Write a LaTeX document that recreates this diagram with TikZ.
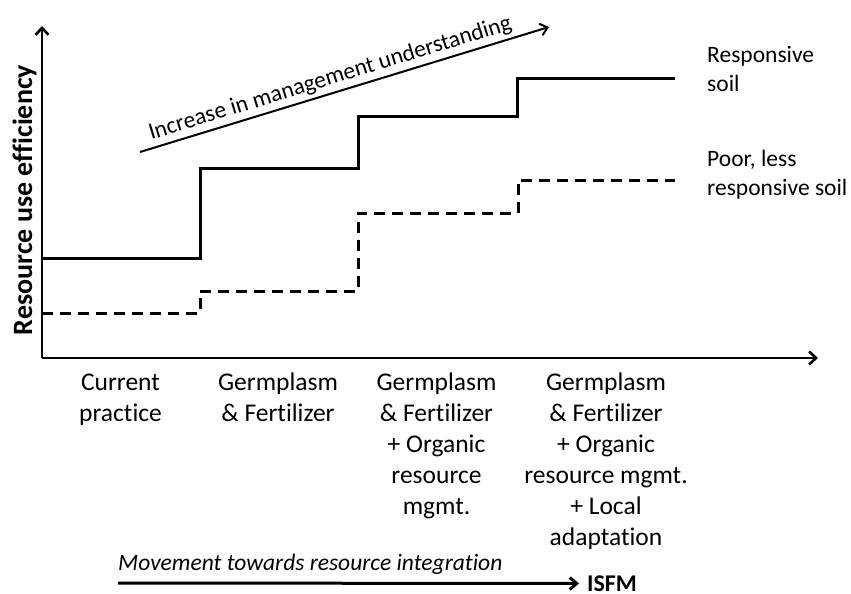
\documentclass[tikz,border=0pt]{standalone}
\usepackage{fontspec}
\setmainfont[Ligatures=CommonOff]{Carlito}
\usetikzlibrary{arrows.meta}
\begin{document}
\begin{tikzpicture}[x=1pt,y=-1pt,
  axis/.style={line width=2.6pt,-{Straight Barb[length=7pt,width=13pt]}},
  resp/.style={line width=3pt,line join=miter},
  poor/.style={line width=3pt,dash pattern=on 11pt off 7pt},
  lbl/.style={inner sep=0pt,font=\fontsize{23.5}{28.5}\selectfont,align=left},
  col/.style={inner sep=0pt,font=\fontsize{25.5}{31}\selectfont,align=center,anchor=base}]
\useasboundingbox (0,0) rectangle (851,594);
% axes
\coordinate (O) at (42,358);
\coordinate (Ytop) at (42,26);
\coordinate (Xend) at (818,358);
\draw[axis] (O) -- (Ytop);
\draw[axis] (O) -- (Xend);
% responsive soil
\coordinate (r0) at (42,258);
\coordinate (r1) at (200,258);
\coordinate (r2) at (200,168);
\coordinate (r3) at (358,168);
\coordinate (r4) at (358,116);
\coordinate (r5) at (517,116);
\coordinate (r6) at (517,78);
\coordinate (r7) at (675,78);
\draw[resp] (r0) -- (r1) -- (r2) -- (r3) -- (r4) -- (r5) -- (r6) -- (r7);
% poor soil
\coordinate (p0) at (42,313);
\coordinate (p1) at (200,313);
\coordinate (p2) at (200,291);
\coordinate (p3) at (358,291);
\coordinate (p4) at (358,213);
\coordinate (p5) at (518,213);
\coordinate (p6) at (518,180);
\coordinate (p7) at (675,180);
\draw[poor] (p0) -- (p1) -- (p2) -- (p3) -- (p4) -- (p5) -- (p6) -- (p7);
% increase arrow
\coordinate (i0) at (140,152);
\coordinate (i1) at (549,27);
\draw[line width=2pt,-{Straight Barb[length=7pt,width=12pt]}] (i0) -- (i1);
\node[lbl,anchor=base,rotate=17.03] (inc) at (332,84.5) {Increase in management understanding};
% labels (base = last line)
\node[lbl,anchor=base west] (rs) at (707,91) {Responsive\\soil};
\node[lbl,anchor=base west] (ps) at (707,195) {Poor, less\\responsive soil};
\node[inner sep=0pt,anchor=base,rotate=90,font=\fontsize{28}{32}\selectfont\bfseries] (ylab) at (32,200) {Resource use efficiency};
% columns (base = last line)
\node[col] (c1) at (120.5,421) {Current\\practice};
\node[col] (c2) at (278,421) {Germplasm\\\& Fertilizer};
\node[col] (c3) at (436.5,514) {Germplasm\\\& Fertilizer\\+ Organic\\resource\\mgmt.};
\node[col] (c4) at (606,545) {Germplasm\\\& Fertilizer\\+ Organic\\resource mgmt.\\+ Local\\adaptation};
% movement
\node[lbl,anchor=base west,font=\fontsize{23.5}{28.5}\selectfont\itshape] (mv) at (118,570) {Movement towards resource integration};
\node[inner sep=0pt,anchor=west,font=\fontsize{24}{28}\selectfont\bfseries] (isfm) at (587,583.5) {ISFM};
\coordinate (m0) at (118,583);
\draw[line width=3pt,-{Straight Barb[length=7pt,width=12pt]}] (m0) -- ([xshift=-8pt]isfm.west);
\end{tikzpicture}
\end{document}
